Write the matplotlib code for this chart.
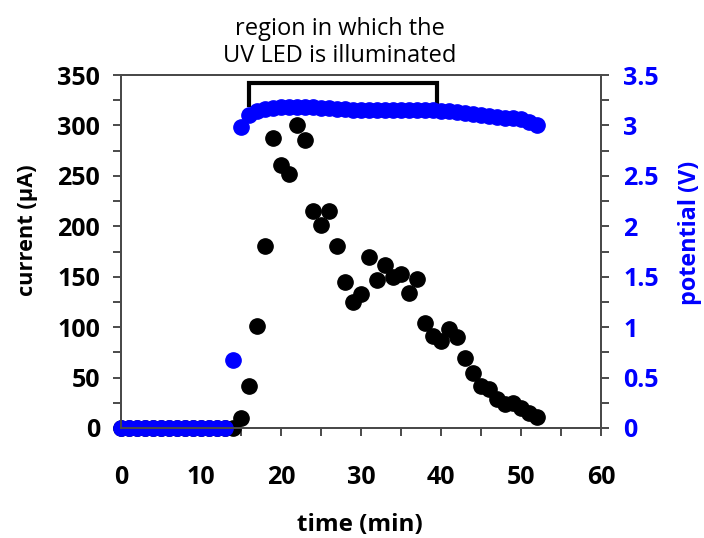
import numpy as np
import matplotlib
matplotlib.use("Agg")
import matplotlib.pyplot as plt
from matplotlib.ticker import MultipleLocator

plt.rcParams["font.family"] = ["Open Sans", "DejaVu Sans"]

# current (black), one reading per minute
time_current = list(range(0, 53))
current_ua = [0] * 15 + [10, 42, 101, 180, 288, 261, 252, 300, 286, 215,
                         201, 215, 180, 145, 125, 133, 170, 147, 162, 150,
                         153, 134, 148, 104, 91, 86, 98, 90, 69, 55,
                         42, 39, 29, 24, 25, 20, 15, 11]

# potential (blue)
time_potential = list(range(0, 53))
potential_v = [0] * 14 + [0.67, 2.98, 3.10, 3.14, 3.16, 3.17, 3.18, 3.18, 3.18,
                          3.18, 3.18, 3.17, 3.17, 3.16, 3.16, 3.15, 3.15, 3.15,
                          3.15, 3.15, 3.15, 3.15, 3.15, 3.15, 3.15, 3.15, 3.14,
                          3.14, 3.13, 3.12, 3.11, 3.10, 3.09, 3.08, 3.07, 3.07,
                          3.06, 3.03, 3.00]

# LED on/off span for the bracket
led_on, led_off = 16, 39.5
bracket_top, bracket_low = 342, 320

BLUE = "#0000FF"
SPINE = "#4a4a4a"

fig = plt.figure(figsize=(7.04, 5.38), dpi=100)
ax = fig.add_axes([0.172, 0.2045, 0.682, 0.656])
ax2 = ax.twinx()

ax.plot(time_current, current_ua, "o", color="black", ms=11, mec="black",
        clip_on=False)
ax2.plot(time_potential, potential_v, "o", color=BLUE, ms=11, mec=BLUE,
         clip_on=False)

# bracket over the illuminated region
ax.plot([led_on, led_on, led_off, led_off],
        [bracket_low, bracket_top, bracket_top, bracket_low],
        color="black", lw=3, solid_joinstyle="miter", clip_on=False)
fig.text(340 / 704, (538 - 68) / 538, "region in which the\nUV LED is illuminated",
         ha="center", va="bottom", fontsize=17, linespacing=1.15)

ax.set_xlim(0, 60)
ax.set_ylim(0, 350)
ax2.set_ylim(0, 3.5)

ax.xaxis.set_major_locator(MultipleLocator(10))
ax.xaxis.set_minor_locator(MultipleLocator(5))
ax.yaxis.set_major_locator(MultipleLocator(50))
ax.yaxis.set_minor_locator(MultipleLocator(25))
ax2.set_yticks(np.arange(0, 3.51, 0.5))
ax2.set_yticklabels(["0", "0.5", "1", "1.5", "2", "2.5", "3", "3.5"])
ax2.yaxis.set_minor_locator(MultipleLocator(0.25))

for a in (ax, ax2):
    for s in a.spines.values():
        s.set_color(SPINE)
        s.set_linewidth(1.4)

ax.tick_params(axis="x", which="both", direction="out", length=6, width=1.4,
               color=SPINE, pad=21, labelsize=18)
ax.tick_params(axis="y", which="both", direction="out", length=6, width=1.4,
               color=SPINE, pad=9, labelsize=18)
ax2.tick_params(axis="y", which="both", direction="out", length=6, width=1.4,
                color=SPINE, pad=10, labelsize=18, labelcolor=BLUE)

for lab in ax.get_xticklabels() + ax.get_yticklabels() + ax2.get_yticklabels():
    lab.set_fontweight("bold")

ax.set_xlabel("time (min)", fontsize=17.5, fontweight="bold")
ax.set_ylabel("current (µA)", fontsize=15.7, fontweight="bold")
ax2.set_ylabel("potential (V)", fontsize=16.8, fontweight="bold", color=BLUE)
ax.xaxis.set_label_coords(0.497, -0.275)
ax.yaxis.set_label_coords(-0.194, 0.561)
ax2.yaxis.set_label_coords(1.185, 0.552)
ax.xaxis.label.set_va("center")
ax.yaxis.label.set_va("center")
ax2.yaxis.label.set_va("center")

fig.savefig("out.png", dpi=100)
